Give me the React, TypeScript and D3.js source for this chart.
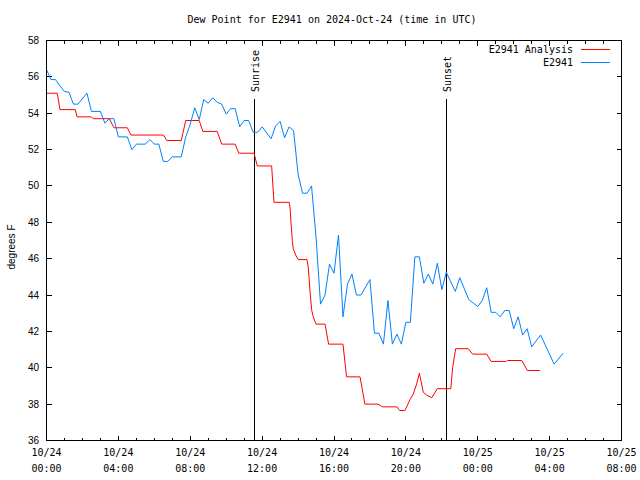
import React from "react";
import * as d3 from "d3";

// ---- data (hours after 2024-10-24 00:00 UTC, dew point in °F) ----
const analysisHours = [
  0, 0.6, 0.75, 1.6, 1.7, 2.5, 2.6, 3.5, 3.75, 4.5, 4.7, 6.5, 6.7, 7.5, 7.75, 8.5, 8.7, 9.5,
  9.75, 10.5, 10.7, 11.55, 11.73, 12.53, 12.66, 13.5, 13.55, 13.6, 13.68, 13.73, 13.87, 14.01,
  14.5, 14.57, 14.66, 14.76, 14.85, 15.0, 15.5, 15.7, 16.5, 16.7, 17.45, 17.72, 18.45, 18.7,
  19.5, 19.65, 19.95, 20.23, 20.41, 20.6, 20.75, 20.97, 21.16, 21.44, 21.75, 22.5, 22.6, 22.77,
  23.47, 23.72, 24.5, 24.74, 25.6, 25.65, 26.45, 26.76, 27.46,
];
const analysisValues = [
  55.1, 55.1, 54.2, 54.2, 53.8, 53.8, 53.7, 53.7, 53.2, 53.2, 52.8, 52.8, 52.5, 52.5, 53.6, 53.6, 53.0, 53.0,
  52.3, 52.3, 51.8, 51.8, 51.1, 51.1, 49.1, 49.1, 48.85, 48.1, 47.0, 46.55, 46.2, 45.95,
  45.95, 45.5, 44.25, 43.15, 42.8, 42.4, 42.4, 41.3, 41.3, 39.5, 39.5, 38.0, 38.0, 37.85,
  37.85, 37.65, 37.65, 38.25, 38.55, 39.1, 39.7, 38.65, 38.5, 38.35, 38.85, 38.85, 40.0, 41.05,
  41.05, 40.75, 40.75, 40.35, 40.35, 40.4, 40.4, 39.85, 39.85,
];

const stationHours = [
  0, 0.25, 0.5, 0.75, 1.0, 1.25, 1.5, 1.75, 2.25, 2.5, 3.0, 3.25, 3.5, 3.75, 4.0, 4.5, 4.75, 5.0,
  5.5, 5.75, 6.0, 6.25, 6.5, 6.75, 7.0, 7.5, 7.75, 8.0, 8.25, 8.5, 8.75, 9.0, 9.25, 9.5, 9.75,
  10.0, 10.25, 10.5, 10.75, 11.0, 11.25, 11.5, 11.75, 12.0, 12.5, 12.75, 13.0, 13.25, 13.5, 13.75,
  14.0, 14.25, 14.5, 14.75, 15.0, 15.25, 15.5, 15.75, 16.0, 16.25, 16.5, 16.75, 17.0, 17.25, 17.5,
  18.0, 18.25, 18.5, 18.75, 19.0, 19.25, 19.5, 19.75, 20.0, 20.25, 20.5, 20.75, 21.0, 21.25, 21.5,
  21.75, 22.0, 22.25, 22.75, 23.0, 23.5, 24.0, 24.25, 24.5, 24.75, 25.0, 25.25, 25.5, 25.75, 26.0,
  26.25, 26.5, 26.75, 27.0, 27.5, 28.25, 28.75,
];
const stationValues = [
  56.4, 55.85, 55.85, 55.5, 55.2, 55.15, 54.5, 54.5, 55.1, 54.1, 54.1, 53.45, 53.7, 53.7, 52.7, 52.7, 52.0, 52.3,
  52.3, 52.55, 52.3, 52.3, 51.35, 51.35, 51.6, 51.6, 52.7, 53.4, 54.3, 53.65, 54.75, 54.55, 54.85, 54.6, 54.5,
  53.95, 54.25, 54.25, 53.25, 53.6, 53.6, 52.95, 52.95, 53.25, 52.6, 53.3, 53.55, 52.65, 53.25, 53.05,
  50.65, 49.6, 49.6, 50.0, 47.2, 43.5, 44.0, 45.7, 45.2, 47.3, 42.8, 44.6, 45.15, 44.0, 44.0,
  44.85, 41.9, 41.9, 41.3, 43.7, 41.3, 41.85, 41.3, 42.5, 42.5, 46.1, 46.1, 44.65, 45.15, 44.6,
  45.75, 44.3, 45.25, 44.2, 44.95, 43.75, 43.37, 43.7, 44.4, 43.05, 43.05, 42.8, 43.15, 43.15, 42.15,
  42.8, 41.8, 42.15, 41.15, 41.8, 40.2, 40.8,
];

const sunEvents = [
  { label: "Sunrise", hour: 11 + 34 / 60 },
  { label: "Sunset", hour: 22 + 16 / 60 },
];

const yTicks = [36, 38, 40, 42, 44, 46, 48, 50, 52, 54, 56, 58];
const seriesNames = ["E2941 Analysis", "E2941"];
const seriesColors = ["#ff0000", "#0080ff"];

const START = Date.UTC(2024, 9, 24, 0, 0);
const toDate = (h: number) => new Date(START + h * 3600 * 1000);

const W = 640;
const H = 480;
const L = 46.5, R = 621.5, T = 40.5, B = 440.5;

export default function App() {
  const x = d3.scaleUtc().domain([toDate(0), toDate(32)]).range([L, R]);
  const y = d3.scaleLinear().domain([36, 58]).range([B, T]);

  const hourTicks = d3.utcHour.range(toDate(0), toDate(32.01));
  const majorTicks = d3.utcHour.every(4)!.range(toDate(0), toDate(32.01));
  const fmtDate = d3.utcFormat("%m/%d");
  const fmtTime = d3.utcFormat("%H:%M");

  const line = d3
    .line<[number, number]>()
    .x((d) => x(toDate(d[0])))
    .y((d) => y(d[1]));

  const analysisPts: [number, number][] = analysisHours.map((h, i) => [h, analysisValues[i]]);
  const stationPts: [number, number][] = stationHours.map((h, i) => [h, stationValues[i]]);

  const mono = "'DejaVu Sans Mono', monospace";
  const sans = "'Liberation Sans', Arial, sans-serif";

  return (
    <svg width={W} height={H} style={{ display: "block", position: "absolute", left: 0, top: 0, background: "#fff" }}>
      <rect x={0} y={0} width={W} height={H} fill="#fff" />
      <text x={332} y={23} fontFamily={mono} fontSize={10} textAnchor="middle" fill="#000">
        Dew Point for E2941 on 2024-Oct-24 (time in UTC)
      </text>

      {/* x ticks */}
      <g stroke="#000" shapeRendering="crispEdges">
        {hourTicks.map((d, i) => {
          const isMajor = d.getUTCHours() % 4 === 0;
          const len = isMajor ? 5 : 3;
          const xx = Math.round(x(d) - 0.5) + 0.5;
          return (
            <g key={i}>
              <line x1={xx} x2={xx} y1={B} y2={B - len} />
              <line x1={xx} x2={xx} y1={T} y2={T + len} />
            </g>
          );
        })}
        {yTicks.map((v, i) => {
          const yy = Math.round(y(v) - 0.5) + 0.5;
          return (
            <g key={i}>
              <line x1={L} x2={L + 5} y1={yy} y2={yy} />
              <line x1={R} x2={R - 5} y1={yy} y2={yy} />
            </g>
          );
        })}
      </g>

      {/* x labels */}
      <g fontFamily={mono} fontSize={10} textAnchor="middle" fill="#000">
        {majorTicks.map((d, i) => (
          <g key={i}>
            <text x={x(d)} y={456}>{fmtDate(d)}</text>
            <text x={x(d)} y={472}>{fmtTime(d)}</text>
          </g>
        ))}
      </g>

      {/* y labels */}
      <g fontFamily={sans} fontSize={10} textAnchor="end" fill="#000">
        {yTicks.map((v, i) => (
          <text key={i} x={39} y={y(v) + 3.5}>{v}</text>
        ))}
      </g>
      <text
        transform={`translate(15,247) rotate(-90)`}
        fontFamily={sans}
        fontSize={10}
        textAnchor="middle"
        fill="#000"
      >
        degrees F
      </text>

      {/* sunrise / sunset */}
      {sunEvents.map((s, i) => {
        const xx = Math.round(x(toDate(s.hour)) - 0.5) + 0.5;
        return (
          <g key={i}>
            <line x1={xx} x2={xx} y1={99} y2={B} stroke="#000" shapeRendering="crispEdges" />
            <text
              transform={`translate(${xx + 4.5},92) rotate(-90)`}
              fontFamily={mono}
              fontSize={10}
              fill="#000"
            >
              {s.label}
            </text>
          </g>
        );
      })}

      {/* data lines */}
      <path d={line(analysisPts) || ""} fill="none" stroke={seriesColors[0]} strokeWidth={1} />
      <path d={line(stationPts) || ""} fill="none" stroke={seriesColors[1]} strokeWidth={1} />

      {/* frame */}
      <rect x={L} y={T} width={R - L} height={B - T} fill="none" stroke="#000" shapeRendering="crispEdges" />

      {/* legend */}
      {seriesNames.map((n, i) => {
        const yy = 49.5 + i * 13;
        return (
          <g key={i}>
            <text x={573} y={yy + 3.5} fontFamily={mono} fontSize={10} textAnchor="end" fill="#000">
              {n}
            </text>
            <line x1={581} x2={610} y1={yy} y2={yy} stroke={seriesColors[i]} shapeRendering="crispEdges" />
          </g>
        );
      })}
    </svg>
  );
}
